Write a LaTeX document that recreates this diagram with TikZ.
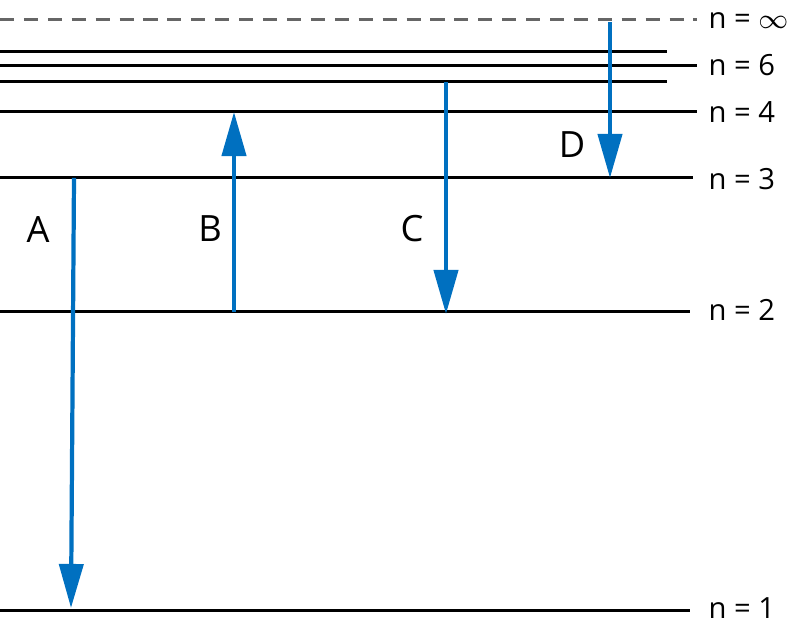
\documentclass[tikz,border=0pt]{standalone}
\usepackage{fontspec}
\setmainfont{Open Sans}
\usetikzlibrary{arrows.meta, positioning}
\definecolor{trblue}{RGB}{0,112,192}

\begin{document}
\begin{tikzpicture}[x=0.01cm, y=-0.01cm,
	level/.style={line width=0.85pt, black},
	levlabel/.style={anchor=west, inner sep=0pt, font=\fontsize{8.3}{10}\selectfont},
	trans/.style={line width=1.2pt, trblue, -{Triangle[length=0.44cm, width=0.24cm]}},
	letter/.style={inner sep=0pt, font=\fontsize{10.3}{12}\selectfont}]
	\useasboundingbox (0,0) rectangle (799,628);
	% niveaux d'energie
	\draw[dash pattern=on 4pt off 2.8pt, gray!80!black, line width=0.85pt] (0,20) -- (697,20);
	\draw[level] (0,52) -- (667,52);
	\draw[level] (0,66) -- (697,66);
	\draw[level] (0,82) -- (667,82);
	\draw[level] (0,112) -- (697,112);
	\draw[level] (0,178) -- (693,178);
	\draw[level] (0,312) -- (690,312);
	\draw[level] (0,611) -- (690,611);
	\node[levlabel] (ninf) at (708,21) {n = $\infty$};
	\node[levlabel] (n6) at (708,65) {n = 6};
	\node[levlabel] (n4) at (708,112) {n = 4};
	\node[levlabel] (n3) at (708,179) {n = 3};
	\node[levlabel] (n2) at (708,310) {n = 2};
	\node[levlabel] (n1) at (708,608) {n = 1};
	% transitions
	\coordinate (a3) at (74,178);
	\coordinate (a1) at (71,608);
	\coordinate (b2) at (234,312);
	\coordinate (b4) at (234,112);
	\coordinate (c5) at (446,82);
	\coordinate (c2) at (446,314);
	\coordinate (dinf) at (610,22);
	\coordinate (d3) at (610,178);
	\draw[trans] (a3) -- (a1);
	\draw[trans] (b2) -- (b4);
	\draw[trans] (c5) -- (c2);
	\draw[trans] (dinf) -- (d3);
	\node[letter] (A) at (38,230) {A};
	\node[letter] (B) at (210,229) {B};
	\node[letter] (C) at (412,229) {C};
	\node[letter] (D) at (572,145) {D};
\end{tikzpicture}
\end{document}
